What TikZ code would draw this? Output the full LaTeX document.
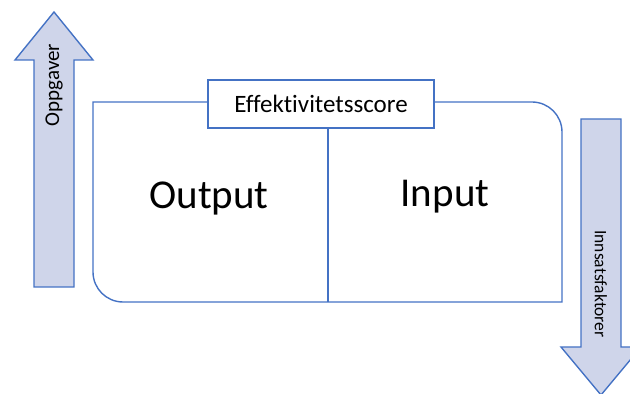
\documentclass[tikz,border=0pt]{standalone}
\usepackage{fontspec}
\setmainfont{Carlito}[Ligatures={NoCommon}]
\usepackage{tikz}
\usetikzlibrary{positioning}

\definecolor{lineblue}{RGB}{68,114,196}
\definecolor{arrowfill}{RGB}{207,213,234}

\begin{document}
\begin{tikzpicture}[x=1pt, y=1pt,
    outline/.style={draw=lineblue, line width=1.4pt},
    bigarrow/.style={outline, fill=arrowfill, line join=miter},
    bigtext/.style={font=\fontsize{41}{41}\selectfont, anchor=base},
    sidetext/.style={inner sep=0pt}]

  \useasboundingbox (0,0) rectangle (630,394);

  % arrow on the left, pointing up
  \draw[bigarrow] (34,107) -- (34,334) -- (15,334) -- (54,382) -- (93,334)
    -- (74,334) -- (74,107) -- cycle;
  \node[sidetext, rotate=90, font=\fontsize{21}{21}\selectfont] (oppg) at (54,309) {Oppgaver};

  % arrow on the right, pointing down
  \draw[bigarrow] (581,275) -- (581,47) -- (561,47) -- (601,-1) -- (641,47)
    -- (621,47) -- (621,275) -- cycle;
  \node[sidetext, rotate=-90, font=\fontsize{17.5}{17.5}\selectfont] (inns) at (601,110) {Innsatsfaktorer};

  % main box, two corners rounded
  \draw[outline] (93,292) -- (532,292) arc[start angle=90, end angle=0, radius=30]
    -- (562,92) -- (123,92) arc[start angle=270, end angle=180, radius=30] -- cycle;

  \node[outline, fill=white, minimum width=226pt, minimum height=48pt, inner sep=0pt,
    font=\fontsize{25}{25}\selectfont] (score) at (321,290) {Effektivitetsscore};

  % split between the two halves
  \coordinate (split) at (328,92);
  \draw[outline] (split) -- (split |- score.south);

  \node[bigtext] (out) at (209,185) {Output};
  \node[bigtext] (in) at (445,187) {Input};

\end{tikzpicture}
\end{document}
